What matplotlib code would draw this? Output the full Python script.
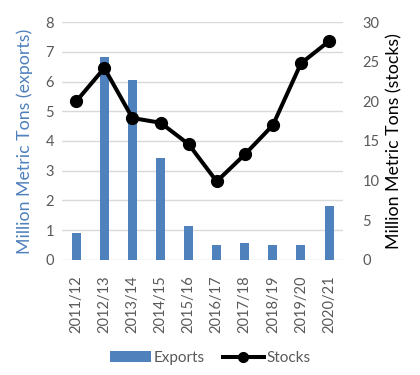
import numpy as np
import matplotlib
matplotlib.use("Agg")
import matplotlib.pyplot as plt
from matplotlib.lines import Line2D
from matplotlib.patches import Patch

# Data
seasons = ["2011/12", "2012/13", "2013/14", "2014/15", "2015/16",
           "2016/17", "2017/18", "2018/19", "2019/20", "2020/21"]
exports = [0.9, 6.82, 6.05, 3.42, 1.13, 0.5, 0.57, 0.5, 0.5, 1.8]
stocks = [20.0, 24.2, 17.9, 17.3, 14.6, 9.9, 13.3, 17.0, 24.8, 27.6]

plt.rcParams['font.family'] = ['Lato', 'DejaVu Sans']

bar_color = '#4F81BD'
tick_color = '#595959'
grid_color = '#D9D9D9'

fig = plt.figure(figsize=(4.2, 3.75), dpi=100)
ax = fig.add_axes([0.148, 0.307, 0.669, 0.634])
x = np.arange(len(seasons))

ax.bar(x, exports, width=0.32, color=bar_color, zorder=2)
ax.set_ylim(0, 8)
ax.set_yticks(range(0, 9))
ax.set_xlim(-0.5, len(seasons) - 0.5)
ax.set_xticks(x)
ax.set_xticklabels(seasons, rotation=90)
ax.yaxis.grid(True, color=grid_color, linewidth=1, zorder=0)
ax.set_axisbelow(True)
for s in ax.spines.values():
    s.set_visible(False)
ax.tick_params(axis='y', length=0, labelsize=10.5, colors=tick_color, pad=6)
ax.tick_params(axis='x', length=0, labelsize=10.5, colors=tick_color, pad=11)
ax.set_ylabel("Million Metric Tons (exports)", color=bar_color, fontsize=12.8, labelpad=9)

ax2 = ax.twinx()
ax2.plot(x, stocks, color='black', linewidth=2.9, marker='o', markersize=8.5, zorder=3)
ax2.set_ylim(0, 30)
ax2.set_yticks(range(0, 31, 5))
for s in ax2.spines.values():
    s.set_visible(False)
ax2.tick_params(length=0, labelsize=10.5, colors=tick_color, pad=14)
ax2.set_ylabel("Million Metric Tons (stocks)", color='black', fontsize=12.8, labelpad=5)

handles = [Patch(facecolor=bar_color, label='Exports'),
           Line2D([0], [0], color='black', linewidth=2.9, marker='o', markersize=7, label='Stocks')]
leg = fig.legend(handles=handles, loc='center', bbox_to_anchor=(0.5, 0.045), ncol=2,
                 frameon=False, fontsize=11, handlelength=2.7, columnspacing=1.2,
                 handletextpad=0.15)
for t in leg.get_texts():
    t.set_color(tick_color)

fig.savefig('out.png', dpi=100)
